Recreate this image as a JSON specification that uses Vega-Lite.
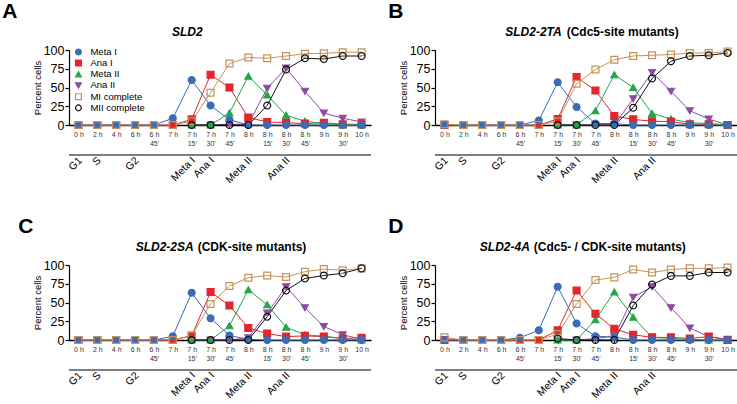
{
  "$schema": "https://vega.github.io/schema/vega-lite/v6.json",
  "padding": {"left": 2, "top": 1, "right": 0, "bottom": 0},
  "bounds": "flush",
  "columns": 2,
  "spacing": {"row": 140, "column": 64},
  "config": {
    "font": "Liberation Sans",
    "view": {"stroke": null},
    "axis": {"grid": false, "domainColor": "#000", "tickColor": "#000", "labelColor": "#000", "titleColor": "#000"},
    "title": {"anchor": "start", "frame": "bounds", "fontSize": 21, "fontWeight": "bold", "offset": 4, "color": "#000"}
  },
  "datasets": {
    "lg": [{"series": "Meta I"}, {"series": "Ana I"}, {"series": "Meta II"}, {"series": "Ana II"}, {"series": "MI complete"}, {"series": "MII complete"}],
    "st": [
      {"t": "0 h", "s": "G1"}, {"t": "2 h", "s": "S"}, {"t": "6 h", "s": "G2"},
      {"t": "7 h 15", "s": "Meta I"}, {"t": "7 h 30", "s": "Ana I"}, {"t": "8 h", "s": "Meta II"}, {"t": "8 h 30", "s": "Ana II"}
    ],
    "d": [
      {"p":"A","t":"0 h","m":0,"Meta I":0,"Ana I":0,"MI complete":0},
      {"p":"A","t":"2 h","m":120,"Meta I":0,"Ana I":0,"MI complete":0},
      {"p":"A","t":"4 h","m":240,"Meta I":0,"Ana I":0,"MI complete":0},
      {"p":"A","t":"6 h","m":360,"Meta I":0,"Ana I":0,"MI complete":0},
      {"p":"A","t":"6 h 45","m":405,"Meta I":0,"Ana I":0,"MI complete":0},
      {"p":"A","t":"7 h","m":420,"Meta I":9,"Ana I":0,"MI complete":0},
      {"p":"A","t":"7 h 15","m":435,"Meta I":60,"Ana I":7.5,"Meta II":0,"Ana II":0,"MI complete":5,"MII complete":0},
      {"p":"A","t":"7 h 30","m":450,"Meta I":26,"Ana I":67,"Meta II":0,"Ana II":0,"MI complete":43,"MII complete":0},
      {"p":"A","t":"7 h 45","m":465,"Meta I":7,"Ana I":50,"Meta II":16,"Ana II":1,"MI complete":82,"MII complete":0},
      {"p":"A","t":"8 h","m":480,"Meta I":0,"Ana I":10,"Meta II":65,"Ana II":1,"MI complete":90,"MII complete":0},
      {"p":"A","t":"8 h 15","m":495,"Meta I":0,"Ana I":4,"Meta II":40,"Ana II":49,"MI complete":89,"MII complete":26},
      {"p":"A","t":"8 h 30","m":510,"Meta I":0,"Ana I":3,"Meta II":13,"Ana II":76,"MI complete":92,"MII complete":74},
      {"p":"A","t":"8 h 45","m":525,"Meta I":0,"Ana I":2,"Meta II":5,"Ana II":45,"MI complete":95,"MII complete":89},
      {"p":"A","t":"9 h","m":540,"Meta I":0,"Ana I":3,"Meta II":2,"Ana II":16,"MI complete":95.5,"MII complete":88},
      {"p":"A","t":"9 h 30","m":570,"Meta I":0,"Ana I":1,"Meta II":0,"Ana II":9,"MI complete":97,"MII complete":92},
      {"p":"A","t":"10 h","m":600,"Meta I":0,"Ana I":1,"Meta II":0,"Ana II":4,"MI complete":97,"MII complete":92},

      {"p":"B","t":"0 h","m":0,"Meta I":0,"Ana I":0,"MI complete":1},
      {"p":"B","t":"2 h","m":120,"Meta I":0,"Ana I":0,"MI complete":0},
      {"p":"B","t":"4 h","m":240,"Meta I":0,"Ana I":0,"MI complete":0},
      {"p":"B","t":"6 h","m":360,"Meta I":0,"Ana I":0,"MI complete":0},
      {"p":"B","t":"6 h 45","m":405,"Meta I":0,"Ana I":0,"MI complete":0},
      {"p":"B","t":"7 h","m":420,"Meta I":6,"Ana I":0,"MI complete":0},
      {"p":"B","t":"7 h 15","m":435,"Meta I":57,"Ana I":8,"Meta II":0,"Ana II":0,"MI complete":5,"MII complete":0},
      {"p":"B","t":"7 h 30","m":450,"Meta I":24,"Ana I":64,"Meta II":0,"Ana II":0,"MI complete":55,"MII complete":0},
      {"p":"B","t":"7 h 45","m":465,"Meta I":2,"Ana I":46,"Meta II":19,"Ana II":0,"MI complete":74,"MII complete":0},
      {"p":"B","t":"8 h","m":480,"Meta I":2,"Ana I":12,"Meta II":67,"Ana II":0,"MI complete":87,"MII complete":0},
      {"p":"B","t":"8 h 15","m":495,"Meta I":0,"Ana I":7.5,"Meta II":50,"Ana II":35,"MI complete":92,"MII complete":23},
      {"p":"B","t":"8 h 30","m":510,"Meta I":0,"Ana I":5,"Meta II":15.5,"Ana II":70,"MI complete":93,"MII complete":62},
      {"p":"B","t":"8 h 45","m":525,"Meta I":0,"Ana I":4.5,"Meta II":8,"Ana II":45,"MI complete":94,"MII complete":85},
      {"p":"B","t":"9 h","m":540,"Meta I":0,"Ana I":1,"Meta II":3,"Ana II":19,"MI complete":96,"MII complete":92},
      {"p":"B","t":"9 h 30","m":570,"Meta I":0,"Ana I":1,"Meta II":2,"Ana II":8,"MI complete":96,"MII complete":93},
      {"p":"B","t":"10 h","m":600,"Meta I":0,"Ana I":0,"Meta II":0,"Ana II":0,"MI complete":98,"MII complete":96},

      {"p":"C","t":"0 h","m":0,"Meta I":0,"Ana I":0,"MI complete":0},
      {"p":"C","t":"2 h","m":120,"Meta I":0,"Ana I":0,"MI complete":0},
      {"p":"C","t":"4 h","m":240,"Meta I":0,"Ana I":0,"MI complete":0},
      {"p":"C","t":"6 h","m":360,"Meta I":0,"Ana I":0,"MI complete":0},
      {"p":"C","t":"6 h 45","m":405,"Meta I":0,"Ana I":0,"MI complete":0},
      {"p":"C","t":"7 h","m":420,"Meta I":5,"Ana I":0,"MI complete":0},
      {"p":"C","t":"7 h 15","m":435,"Meta I":63,"Ana I":5.5,"Meta II":0,"Ana II":0,"MI complete":6,"MII complete":0},
      {"p":"C","t":"7 h 30","m":450,"Meta I":29,"Ana I":64,"Meta II":0,"Ana II":0,"MI complete":48,"MII complete":0},
      {"p":"C","t":"7 h 45","m":465,"Meta I":6,"Ana I":46,"Meta II":19,"Ana II":0,"MI complete":72,"MII complete":0},
      {"p":"C","t":"8 h","m":480,"Meta I":1,"Ana I":16,"Meta II":67,"Ana II":3,"MI complete":83,"MII complete":0},
      {"p":"C","t":"8 h 15","m":495,"Meta I":0,"Ana I":8.5,"Meta II":47,"Ana II":36,"MI complete":86,"MII complete":31},
      {"p":"C","t":"8 h 30","m":510,"Meta I":0,"Ana I":4.5,"Meta II":17,"Ana II":71,"MI complete":84,"MII complete":66},
      {"p":"C","t":"8 h 45","m":525,"Meta I":0,"Ana I":5.5,"Meta II":7,"Ana II":43,"MI complete":91,"MII complete":82},
      {"p":"C","t":"9 h","m":540,"Meta I":0,"Ana I":4.5,"Meta II":5,"Ana II":18,"MI complete":94.5,"MII complete":86},
      {"p":"C","t":"9 h 30","m":570,"Meta I":0,"Ana I":2,"Meta II":2,"Ana II":7,"MI complete":93,"MII complete":89},
      {"p":"C","t":"10 h","m":600,"Meta I":0,"Ana I":3,"Meta II":0,"Ana II":1,"MI complete":95.5,"MII complete":95.5},

      {"p":"D","t":"0 h","m":0,"Meta I":0,"Ana I":0,"MI complete":3.5},
      {"p":"D","t":"2 h","m":120,"Meta I":0,"Ana I":0,"MI complete":0},
      {"p":"D","t":"4 h","m":240,"Meta I":0,"Ana I":0,"MI complete":0},
      {"p":"D","t":"6 h","m":360,"Meta I":0,"Ana I":0,"MI complete":0},
      {"p":"D","t":"6 h 45","m":405,"Meta I":3,"Ana I":0,"MI complete":0},
      {"p":"D","t":"7 h","m":420,"Meta I":13,"Ana I":0,"MI complete":0},
      {"p":"D","t":"7 h 15","m":435,"Meta I":71,"Ana I":13,"Meta II":0,"Ana II":0,"MI complete":8,"MII complete":2},
      {"p":"D","t":"7 h 30","m":450,"Meta I":22,"Ana I":66,"Meta II":0,"Ana II":0,"MI complete":48,"MII complete":0},
      {"p":"D","t":"7 h 45","m":465,"Meta I":5,"Ana I":35,"Meta II":27,"Ana II":2,"MI complete":80,"MII complete":0},
      {"p":"D","t":"8 h","m":480,"Meta I":4,"Ana I":15,"Meta II":64,"Ana II":5,"MI complete":83.5,"MII complete":0},
      {"p":"D","t":"8 h 15","m":495,"Meta I":0,"Ana I":7,"Meta II":30.5,"Ana II":57,"MI complete":94,"MII complete":46},
      {"p":"D","t":"8 h 30","m":510,"Meta I":0,"Ana I":3.5,"Meta II":3.5,"Ana II":71,"MI complete":90,"MII complete":74},
      {"p":"D","t":"8 h 45","m":525,"Meta I":0,"Ana I":3.5,"Meta II":2,"Ana II":43,"MI complete":94,"MII complete":85.5},
      {"p":"D","t":"9 h","m":540,"Meta I":0,"Ana I":2,"Meta II":1,"Ana II":16,"MI complete":95.5,"MII complete":85.5},
      {"p":"D","t":"9 h 30","m":570,"Meta I":0,"Ana I":4.5,"Meta II":0,"Ana II":4.5,"MI complete":95.5,"MII complete":90},
      {"p":"D","t":"10 h","m":600,"Meta I":0,"Ana I":0,"Meta II":0,"Ana II":1,"MI complete":96.5,"MII complete":90}
    ]
  },
  "concat": [
    {
      "title": {"text": "A", "dx": -30},
      "width": 302, "height": 75,
      "resolve": {"scale": {"y": "independent"}, "axis": {"x": "independent", "y": "independent"}},
      "layer": [
        {
          "data": {"name": "d"},
          "transform": [
            {"filter": "datum.p == 'A'"},
            {"fold": ["Ana II", "Meta II", "Ana I", "Meta I", "MI complete", "MII complete"], "as": ["series", "value"]},
            {"filter": "isValid(datum.value)"}
          ],
          "mark": {"type": "line", "strokeWidth": 1},
          "encoding": {
            "x": {"field": "t", "type": "ordinal", "scale": {"domain": ["0 h","2 h","4 h","6 h","6 h 45","7 h","7 h 15","7 h 30","7 h 45","8 h","8 h 15","8 h 30","8 h 45","9 h","9 h 30","10 h"], "padding": 0.5},
              "axis": {"title": null, "orient": "bottom", "labelAngle": 0, "labelFontSize": 7, "labelColor": "#333", "labelPadding": 2, "tickSize": 3, "domainWidth": 1.5, "labelLineHeight": 9, "labelOverlap": false, "labelBound": false, "labelExpr": "length(datum.value) > 4 ? [substring(datum.value, 0, 3), substring(datum.value, 4) + \"'\"] : datum.value"}},
            "y": {"field": "value", "type": "quantitative", "scale": {"domain": [0, 100]}, "axis": {"title": "Percent cells", "values": [0, 25, 50, 75, 100], "labelFontSize": 12.5, "titleFontSize": 9.5, "titleFontWeight": "normal", "tickSize": 4, "domainWidth": 1.2, "tickWidth": 1.2, "labelPadding": 1, "titlePadding": 1, "labelOverlap": false, "labelFlush": false}},
            "color": {"field": "series", "type": "nominal", "scale": {"domain": ["Meta I","Ana I","Meta II","Ana II","MI complete","MII complete"], "range": ["#3b6cb5","#e2262b","#22a64a","#8b4ca2","#c4935a","#111111"]}, "legend": null},
            "order": {"field": "m", "type": "quantitative"}
          }
        },
        {
          "data": {"name": "d"},
          "transform": [
            {"filter": "datum.p == 'A'"},
            {"fold": ["Ana II", "Meta II", "Ana I", "Meta I", "MI complete", "MII complete"], "as": ["series", "value"]},
            {"filter": "isValid(datum.value)"}
          ],
          "mark": {"type": "point", "opacity": 1, "size": 48, "strokeWidth": 1.2},
          "encoding": {
            "x": {"field": "t", "type": "ordinal", "axis": null},
            "y": {"field": "value", "type": "quantitative", "scale": {"domain": [0, 100]}, "axis": null},
            "fill": {"field": "series", "type": "nominal", "scale": {"domain": ["Meta I","Ana I","Meta II","Ana II","MI complete","MII complete"], "range": ["#3b6cb5","#e2262b","#22a64a","#8b4ca2","transparent","transparent"]}, "legend": null},
            "stroke": {"field": "series", "type": "nominal", "scale": {"domain": ["Meta I","Ana I","Meta II","Ana II","MI complete","MII complete"], "range": ["#3b6cb5","#e2262b","#22a64a","#8b4ca2","#c4935a","#111111"]}, "legend": null},
            "shape": {"field": "series", "type": "nominal", "scale": {"domain": ["Meta I","Ana I","Meta II","Ana II","MI complete","MII complete"], "range": ["circle","square","triangle-up","triangle-down","square","circle"]}, "legend": null}
          }
        },
        {
          "data": {"values": [{"label": "x"}]},
          "mark": {"type": "rule", "color": "#555", "strokeWidth": 1.5},
          "encoding": {"y": {"datum": -40, "type": "quantitative", "scale": {"domain": [0, 100]}, "axis": null}}
        },
        {
          "data": {"name": "st"},
          "mark": {"type": "text", "angle": -45, "align": "right", "baseline": "middle", "fontSize": 10.5, "dx": 3},
          "encoding": {
            "x": {"field": "t", "type": "ordinal", "axis": null},
            "y": {"datum": -48, "type": "quantitative", "scale": {"domain": [0, 100]}, "axis": null},
            "text": {"field": "s"}
          }
        },
        {
          "data": {"values": [{"label": "SLD2"}]},
          "mark": {"type": "text", "fontSize": 12, "fontWeight": "bold", "fontStyle": "italic", "align": "right", "baseline": "middle", "dx": 11},
          "encoding": {
            "x": {"datum": "7 h 15", "type": "ordinal", "axis": null},
            "y": {"datum": 124, "type": "quantitative", "scale": {"domain": [0, 100]}, "axis": null},
            "text": {"field": "label"}
          }
        },
        {
          "data": {"name": "lg"},
          "mark": {"type": "point", "opacity": 1, "size": 34, "strokeWidth": 1.2},
          "encoding": {
            "x": {"datum": "0 h", "type": "ordinal", "axis": null},
            "y": {"field": "series", "type": "nominal", "scale": {"type": "point", "domain": ["Meta I","Ana I","Meta II","Ana II","MI complete","MII complete"], "padding": 0.85, "align": 0.1}, "axis": null},
            "fill": {"field": "series", "type": "nominal", "legend": null},
            "stroke": {"field": "series", "type": "nominal", "legend": null},
            "shape": {"field": "series", "type": "nominal", "legend": null}
          }
        },
        {
          "data": {"name": "lg"},
          "mark": {"type": "text", "align": "left", "baseline": "middle", "fontSize": 9.5, "dx": 12},
          "encoding": {
            "x": {"datum": "0 h", "type": "ordinal", "axis": null},
            "y": {"field": "series", "type": "nominal", "scale": {"type": "point", "domain": ["Meta I","Ana I","Meta II","Ana II","MI complete","MII complete"], "padding": 0.85, "align": 0.1}, "axis": null},
            "text": {"field": "series"}
          }
        }
      ]
    },
    {
      "title": {"text": "B", "dx": -10},
      "width": 302, "height": 75,
      "resolve": {"axis": {"x": "independent", "y": "independent"}},
      "layer": [
        {
          "data": {"name": "d"},
          "transform": [
            {"filter": "datum.p == 'B'"},
            {"fold": ["Ana II", "Meta II", "Ana I", "Meta I", "MI complete", "MII complete"], "as": ["series", "value"]},
            {"filter": "isValid(datum.value)"}
          ],
          "mark": {"type": "line", "strokeWidth": 1},
          "encoding": {
            "x": {"field": "t", "type": "ordinal", "scale": {"domain": ["0 h","2 h","4 h","6 h","6 h 45","7 h","7 h 15","7 h 30","7 h 45","8 h","8 h 15","8 h 30","8 h 45","9 h","9 h 30","10 h"], "padding": 0.5},
              "axis": {"title": null, "orient": "bottom", "labelAngle": 0, "labelFontSize": 7, "labelColor": "#333", "labelPadding": 2, "tickSize": 3, "domainWidth": 1.5, "labelLineHeight": 9, "labelOverlap": false, "labelBound": false, "labelExpr": "length(datum.value) > 4 ? [substring(datum.value, 0, 3), substring(datum.value, 4) + \"'\"] : datum.value"}},
            "y": {"field": "value", "type": "quantitative", "scale": {"domain": [0, 100]}, "axis": {"title": "Percent cells", "values": [0, 25, 50, 75, 100], "labelFontSize": 12.5, "titleFontSize": 9.5, "titleFontWeight": "normal", "tickSize": 4, "domainWidth": 1.2, "tickWidth": 1.2, "labelPadding": 1, "titlePadding": 1, "labelOverlap": false, "labelFlush": false}},
            "color": {"field": "series", "type": "nominal", "scale": {"domain": ["Meta I","Ana I","Meta II","Ana II","MI complete","MII complete"], "range": ["#3b6cb5","#e2262b","#22a64a","#8b4ca2","#c4935a","#111111"]}, "legend": null},
            "order": {"field": "m", "type": "quantitative"}
          }
        },
        {
          "data": {"name": "d"},
          "transform": [
            {"filter": "datum.p == 'B'"},
            {"fold": ["Ana II", "Meta II", "Ana I", "Meta I", "MI complete", "MII complete"], "as": ["series", "value"]},
            {"filter": "isValid(datum.value)"}
          ],
          "mark": {"type": "point", "opacity": 1, "size": 48, "strokeWidth": 1.2},
          "encoding": {
            "x": {"field": "t", "type": "ordinal", "axis": null},
            "y": {"field": "value", "type": "quantitative", "scale": {"domain": [0, 100]}, "axis": null},
            "fill": {"field": "series", "type": "nominal", "scale": {"domain": ["Meta I","Ana I","Meta II","Ana II","MI complete","MII complete"], "range": ["#3b6cb5","#e2262b","#22a64a","#8b4ca2","transparent","transparent"]}, "legend": null},
            "stroke": {"field": "series", "type": "nominal", "scale": {"domain": ["Meta I","Ana I","Meta II","Ana II","MI complete","MII complete"], "range": ["#3b6cb5","#e2262b","#22a64a","#8b4ca2","#c4935a","#111111"]}, "legend": null},
            "shape": {"field": "series", "type": "nominal", "scale": {"domain": ["Meta I","Ana I","Meta II","Ana II","MI complete","MII complete"], "range": ["circle","square","triangle-up","triangle-down","square","circle"]}, "legend": null}
          }
        },
        {
          "data": {"values": [{"label": "x"}]},
          "mark": {"type": "rule", "color": "#555", "strokeWidth": 1.5},
          "encoding": {"y": {"datum": -40, "type": "quantitative", "scale": {"domain": [0, 100]}, "axis": null}}
        },
        {
          "data": {"name": "st"},
          "mark": {"type": "text", "angle": -45, "align": "right", "baseline": "middle", "fontSize": 10.5, "dx": 3},
          "encoding": {
            "x": {"field": "t", "type": "ordinal", "axis": null},
            "y": {"datum": -48, "type": "quantitative", "scale": {"domain": [0, 100]}, "axis": null},
            "text": {"field": "s"}
          }
        },
        {
          "data": {"values": [{"label": "SLD2-2TA"}]},
          "mark": {"type": "text", "fontSize": 12, "fontWeight": "bold", "fontStyle": "italic", "align": "right", "baseline": "middle", "dx": 4},
          "encoding": {
            "x": {"datum": "7 h 15", "type": "ordinal", "axis": null},
            "y": {"datum": 124, "type": "quantitative", "scale": {"domain": [0, 100]}, "axis": null},
            "text": {"field": "label"}
          }
        },
        {
          "data": {"values": [{"label": "(Cdc5-site mutants)"}]},
          "mark": {"type": "text", "fontSize": 12, "fontWeight": "bold", "align": "left", "baseline": "middle", "dx": 9},
          "encoding": {
            "x": {"datum": "7 h 15", "type": "ordinal", "axis": null},
            "y": {"datum": 124, "type": "quantitative", "scale": {"domain": [0, 100]}, "axis": null},
            "text": {"field": "label"}
          }
        }
      ]
    },
    {
      "title": {"text": "C", "dx": -14},
      "width": 302, "height": 75,
      "resolve": {"axis": {"x": "independent", "y": "independent"}},
      "layer": [
        {
          "data": {"name": "d"},
          "transform": [
            {"filter": "datum.p == 'C'"},
            {"fold": ["Ana II", "Meta II", "Ana I", "Meta I", "MI complete", "MII complete"], "as": ["series", "value"]},
            {"filter": "isValid(datum.value)"}
          ],
          "mark": {"type": "line", "strokeWidth": 1},
          "encoding": {
            "x": {"field": "t", "type": "ordinal", "scale": {"domain": ["0 h","2 h","4 h","6 h","6 h 45","7 h","7 h 15","7 h 30","7 h 45","8 h","8 h 15","8 h 30","8 h 45","9 h","9 h 30","10 h"], "padding": 0.5},
              "axis": {"title": null, "orient": "bottom", "labelAngle": 0, "labelFontSize": 7, "labelColor": "#333", "labelPadding": 2, "tickSize": 3, "domainWidth": 1.5, "labelLineHeight": 9, "labelOverlap": false, "labelBound": false, "labelExpr": "length(datum.value) > 4 ? [substring(datum.value, 0, 3), substring(datum.value, 4) + \"'\"] : datum.value"}},
            "y": {"field": "value", "type": "quantitative", "scale": {"domain": [0, 100]}, "axis": {"title": "Percent cells", "values": [0, 25, 50, 75, 100], "labelFontSize": 12.5, "titleFontSize": 9.5, "titleFontWeight": "normal", "tickSize": 4, "domainWidth": 1.2, "tickWidth": 1.2, "labelPadding": 1, "titlePadding": 1, "labelOverlap": false, "labelFlush": false}},
            "color": {"field": "series", "type": "nominal", "scale": {"domain": ["Meta I","Ana I","Meta II","Ana II","MI complete","MII complete"], "range": ["#3b6cb5","#e2262b","#22a64a","#8b4ca2","#c4935a","#111111"]}, "legend": null},
            "order": {"field": "m", "type": "quantitative"}
          }
        },
        {
          "data": {"name": "d"},
          "transform": [
            {"filter": "datum.p == 'C'"},
            {"fold": ["Ana II", "Meta II", "Ana I", "Meta I", "MI complete", "MII complete"], "as": ["series", "value"]},
            {"filter": "isValid(datum.value)"}
          ],
          "mark": {"type": "point", "opacity": 1, "size": 48, "strokeWidth": 1.2},
          "encoding": {
            "x": {"field": "t", "type": "ordinal", "axis": null},
            "y": {"field": "value", "type": "quantitative", "scale": {"domain": [0, 100]}, "axis": null},
            "fill": {"field": "series", "type": "nominal", "scale": {"domain": ["Meta I","Ana I","Meta II","Ana II","MI complete","MII complete"], "range": ["#3b6cb5","#e2262b","#22a64a","#8b4ca2","transparent","transparent"]}, "legend": null},
            "stroke": {"field": "series", "type": "nominal", "scale": {"domain": ["Meta I","Ana I","Meta II","Ana II","MI complete","MII complete"], "range": ["#3b6cb5","#e2262b","#22a64a","#8b4ca2","#c4935a","#111111"]}, "legend": null},
            "shape": {"field": "series", "type": "nominal", "scale": {"domain": ["Meta I","Ana I","Meta II","Ana II","MI complete","MII complete"], "range": ["circle","square","triangle-up","triangle-down","square","circle"]}, "legend": null}
          }
        },
        {
          "data": {"values": [{"label": "x"}]},
          "mark": {"type": "rule", "color": "#555", "strokeWidth": 1.5},
          "encoding": {"y": {"datum": -40, "type": "quantitative", "scale": {"domain": [0, 100]}, "axis": null}}
        },
        {
          "data": {"name": "st"},
          "mark": {"type": "text", "angle": -45, "align": "right", "baseline": "middle", "fontSize": 10.5, "dx": 3},
          "encoding": {
            "x": {"field": "t", "type": "ordinal", "axis": null},
            "y": {"datum": -48, "type": "quantitative", "scale": {"domain": [0, 100]}, "axis": null},
            "text": {"field": "s"}
          }
        },
        {
          "data": {"values": [{"label": "SLD2-2SA"}]},
          "mark": {"type": "text", "fontSize": 12, "fontWeight": "bold", "fontStyle": "italic", "align": "right", "baseline": "middle", "dx": 2},
          "encoding": {
            "x": {"datum": "7 h 15", "type": "ordinal", "axis": null},
            "y": {"datum": 124, "type": "quantitative", "scale": {"domain": [0, 100]}, "axis": null},
            "text": {"field": "label"}
          }
        },
        {
          "data": {"values": [{"label": "(CDK-site mutants)"}]},
          "mark": {"type": "text", "fontSize": 12, "fontWeight": "bold", "align": "left", "baseline": "middle", "dx": 6},
          "encoding": {
            "x": {"datum": "7 h 15", "type": "ordinal", "axis": null},
            "y": {"datum": 124, "type": "quantitative", "scale": {"domain": [0, 100]}, "axis": null},
            "text": {"field": "label"}
          }
        }
      ]
    },
    {
      "title": {"text": "D", "dx": -10},
      "width": 302, "height": 75,
      "resolve": {"axis": {"x": "independent", "y": "independent"}},
      "layer": [
        {
          "data": {"name": "d"},
          "transform": [
            {"filter": "datum.p == 'D'"},
            {"fold": ["Ana II", "Meta II", "Ana I", "Meta I", "MI complete", "MII complete"], "as": ["series", "value"]},
            {"filter": "isValid(datum.value)"}
          ],
          "mark": {"type": "line", "strokeWidth": 1},
          "encoding": {
            "x": {"field": "t", "type": "ordinal", "scale": {"domain": ["0 h","2 h","4 h","6 h","6 h 45","7 h","7 h 15","7 h 30","7 h 45","8 h","8 h 15","8 h 30","8 h 45","9 h","9 h 30","10 h"], "padding": 0.5},
              "axis": {"title": null, "orient": "bottom", "labelAngle": 0, "labelFontSize": 7, "labelColor": "#333", "labelPadding": 2, "tickSize": 3, "domainWidth": 1.5, "labelLineHeight": 9, "labelOverlap": false, "labelBound": false, "labelExpr": "length(datum.value) > 4 ? [substring(datum.value, 0, 3), substring(datum.value, 4) + \"'\"] : datum.value"}},
            "y": {"field": "value", "type": "quantitative", "scale": {"domain": [0, 100]}, "axis": {"title": "Percent cells", "values": [0, 25, 50, 75, 100], "labelFontSize": 12.5, "titleFontSize": 9.5, "titleFontWeight": "normal", "tickSize": 4, "domainWidth": 1.2, "tickWidth": 1.2, "labelPadding": 1, "titlePadding": 1, "labelOverlap": false, "labelFlush": false}},
            "color": {"field": "series", "type": "nominal", "scale": {"domain": ["Meta I","Ana I","Meta II","Ana II","MI complete","MII complete"], "range": ["#3b6cb5","#e2262b","#22a64a","#8b4ca2","#c4935a","#111111"]}, "legend": null},
            "order": {"field": "m", "type": "quantitative"}
          }
        },
        {
          "data": {"name": "d"},
          "transform": [
            {"filter": "datum.p == 'D'"},
            {"fold": ["Ana II", "Meta II", "Ana I", "Meta I", "MI complete", "MII complete"], "as": ["series", "value"]},
            {"filter": "isValid(datum.value)"}
          ],
          "mark": {"type": "point", "opacity": 1, "size": 48, "strokeWidth": 1.2},
          "encoding": {
            "x": {"field": "t", "type": "ordinal", "axis": null},
            "y": {"field": "value", "type": "quantitative", "scale": {"domain": [0, 100]}, "axis": null},
            "fill": {"field": "series", "type": "nominal", "scale": {"domain": ["Meta I","Ana I","Meta II","Ana II","MI complete","MII complete"], "range": ["#3b6cb5","#e2262b","#22a64a","#8b4ca2","transparent","transparent"]}, "legend": null},
            "stroke": {"field": "series", "type": "nominal", "scale": {"domain": ["Meta I","Ana I","Meta II","Ana II","MI complete","MII complete"], "range": ["#3b6cb5","#e2262b","#22a64a","#8b4ca2","#c4935a","#111111"]}, "legend": null},
            "shape": {"field": "series", "type": "nominal", "scale": {"domain": ["Meta I","Ana I","Meta II","Ana II","MI complete","MII complete"], "range": ["circle","square","triangle-up","triangle-down","square","circle"]}, "legend": null}
          }
        },
        {
          "data": {"values": [{"label": "x"}]},
          "mark": {"type": "rule", "color": "#555", "strokeWidth": 1.5},
          "encoding": {"y": {"datum": -40, "type": "quantitative", "scale": {"domain": [0, 100]}, "axis": null}}
        },
        {
          "data": {"name": "st"},
          "mark": {"type": "text", "angle": -45, "align": "right", "baseline": "middle", "fontSize": 10.5, "dx": 3},
          "encoding": {
            "x": {"field": "t", "type": "ordinal", "axis": null},
            "y": {"datum": -48, "type": "quantitative", "scale": {"domain": [0, 100]}, "axis": null},
            "text": {"field": "s"}
          }
        },
        {
          "data": {"values": [{"label": "SLD2-4A"}]},
          "mark": {"type": "text", "fontSize": 12, "fontWeight": "bold", "fontStyle": "italic", "align": "right", "baseline": "middle", "dx": -9},
          "encoding": {
            "x": {"datum": "7 h", "type": "ordinal", "axis": null},
            "y": {"datum": 124, "type": "quantitative", "scale": {"domain": [0, 100]}, "axis": null},
            "text": {"field": "label"}
          }
        },
        {
          "data": {"values": [{"label": "(Cdc5- / CDK-site mutants)"}]},
          "mark": {"type": "text", "fontSize": 12, "fontWeight": "bold", "align": "left", "baseline": "middle", "dx": -5},
          "encoding": {
            "x": {"datum": "7 h", "type": "ordinal", "axis": null},
            "y": {"datum": 124, "type": "quantitative", "scale": {"domain": [0, 100]}, "axis": null},
            "text": {"field": "label"}
          }
        }
      ]
    }
  ]
}
